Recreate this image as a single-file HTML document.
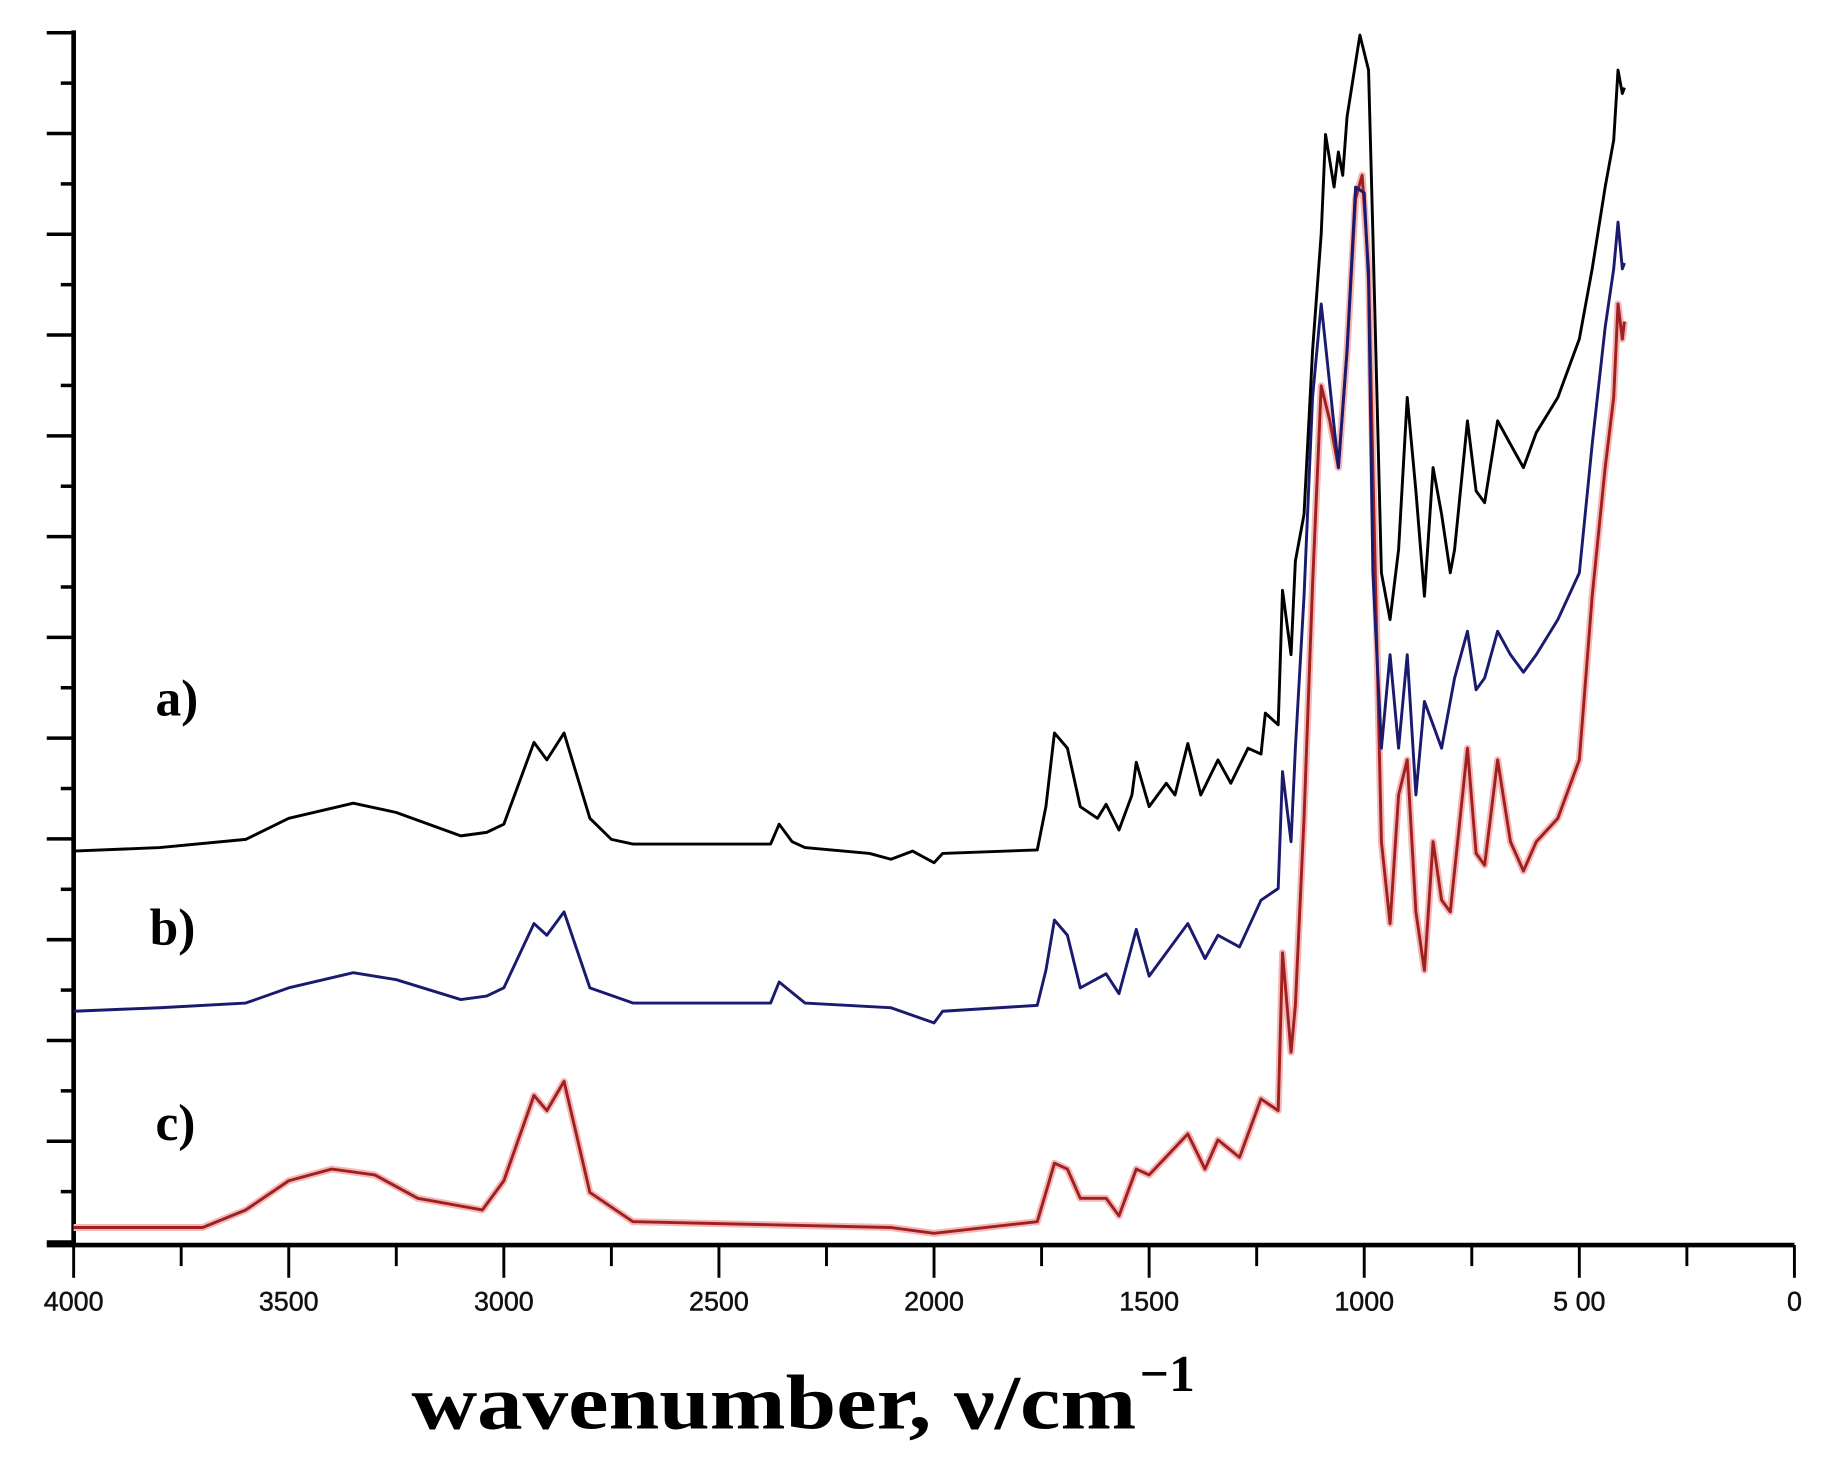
<!DOCTYPE html>
<html><head><meta charset="utf-8"><style>
html,body{margin:0;padding:0;background:#fff;}
svg{display:block;}
</style></head><body>
<svg id="s" width="1833" height="1466" viewBox="0 0 1568 1254" preserveAspectRatio="none" xmlns="http://www.w3.org/2000/svg">
<g id="ax" stroke="#000" fill="none"></g>
<g id="cv" fill="none" stroke-linejoin="round"></g>
<g font-family="Liberation Sans, sans-serif" font-size="23" text-anchor="middle" fill="#111" stroke="#111" stroke-width="0.4" id="tl"></g>
<g font-family="Liberation Serif, serif" font-weight="bold" font-size="44" fill="#000">
<text x="133" y="612">a)</text>
<text x="128" y="808">b)</text>
<text x="133" y="975">c)</text>
</g>
<text x="352" y="1222" font-family="Liberation Serif, serif" font-weight="bold" font-size="66" fill="#000" textLength="620" lengthAdjust="spacingAndGlyphs">wavenumber, ν/cm</text>
<text x="975" y="1190" font-family="Liberation Serif, serif" font-weight="bold" font-size="44" fill="#000">−1</text>
</svg>
<script>
var NS="http://www.w3.org/2000/svg";
function el(p,t,a){var e=document.createElementNS(NS,t);for(var k in a)e.setAttribute(k,a[k]);p.appendChild(e);return e;}
var ax=document.getElementById('ax'),tl=document.getElementById('tl'),cv=document.getElementById('cv');
function X(w){return 63+(4000-w)*0.368;}
el(ax,'line',{x1:63,y1:26,x2:63,y2:1066,'stroke-width':4});
el(ax,'line',{x1:40,y1:1065,x2:1535,y2:1065,'stroke-width':4});
for(var i=0;i<=24;i++){var y=28+i*43.1;el(ax,'line',{x1:(i%2==0?40:52),y1:y,x2:63,y2:y,'stroke-width':3});}
for(var w=4000;w>=0;w-=250){var x=X(w);el(ax,'line',{x1:x,y1:1065,x2:x,y2:(w%500==0?1093:1083),'stroke-width':2.5});
 if(w%500==0){var t=el(tl,'text',{x:x,y:1121});t.textContent=(w==500?'5 00':String(w));}}
var A=[[4000,728],[3800,725],[3600,718],[3500,700],[3350,687],[3250,695],[3100,715],[3040,712],[3000,705],[2930,635],[2900,650],[2860,627],[2800,700],[2750,718],[2700,722],[2380,722],[2360,705],[2330,720],[2300,725],[2150,730],[2100,735],[2050,728],[2000,738],[1980,730],[1760,727],[1740,690],[1720,627],[1690,640],[1660,690],[1620,700],[1600,688],[1570,710],[1540,680],[1530,652],[1500,690],[1460,670],[1440,680],[1410,636],[1380,680],[1340,650],[1310,670],[1270,640],[1240,645],[1230,610],[1200,620],[1190,505],[1170,560],[1160,480],[1140,440],[1120,300],[1100,200],[1090,115],[1070,160],[1060,130],[1050,150],[1040,100],[1010,30],[990,60],[980,200],[960,490],[940,530],[920,470],[900,340],[880,420],[860,510],[840,400],[820,440],[800,490],[790,470],[760,360],[740,420],[720,430],[690,360],[660,380],[630,400],[600,370],[550,340],[500,290],[470,230],[440,160],[420,120],[410,60],[400,80],[395,75]];
var B=[[4000,865],[3800,862],[3600,858],[3500,845],[3350,832],[3250,838],[3100,855],[3040,852],[3000,845],[2930,790],[2900,800],[2860,780],[2800,845],[2700,858],[2380,858],[2360,840],[2300,858],[2100,862],[2000,875],[1980,865],[1760,860],[1740,830],[1720,787],[1690,800],[1660,845],[1600,833],[1570,850],[1530,795],[1500,835],[1410,790],[1370,820],[1340,800],[1290,810],[1240,770],[1200,760],[1190,660],[1170,720],[1160,640],[1140,510],[1120,340],[1100,260],[1080,330],[1060,400],[1040,300],[1020,160],[1000,165],[990,240],[980,490],[960,640],[940,560],[920,640],[900,560],[880,680],[860,600],[840,620],[820,640],[790,580],[760,540],[740,590],[720,580],[690,540],[660,560],[630,575],[600,560],[550,530],[500,490],[470,380],[440,280],[420,230],[410,190],[400,230],[395,225]];
var C=[[4000,1050],[3700,1050],[3600,1035],[3500,1010],[3400,1000],[3300,1005],[3200,1025],[3050,1035],[3000,1010],[2930,937],[2900,950],[2860,925],[2800,1020],[2700,1045],[2100,1050],[2000,1055],[1760,1045],[1740,1020],[1720,995],[1690,1000],[1660,1025],[1600,1025],[1570,1040],[1530,1000],[1500,1005],[1410,970],[1370,1000],[1340,975],[1290,990],[1240,940],[1200,950],[1190,815],[1170,900],[1160,860],[1140,700],[1120,500],[1100,330],[1080,360],[1060,400],[1040,300],[1020,170],[1005,150],[990,230],[980,400],[960,720],[940,790],[920,680],[900,650],[880,780],[860,830],[840,720],[820,770],[800,780],[760,640],[740,730],[720,740],[690,650],[660,720],[630,745],[600,720],[550,700],[500,650],[470,510],[440,400],[420,340],[410,260],[400,290],[395,275]];
function pl(d,c,w){el(cv,'polyline',{points:d.map(function(p){return X(p[0]).toFixed(1)+','+p[1];}).join(' '),stroke:c,'stroke-width':w});}
pl(C,'#f4b8b8',6);pl(C,'#a02020',2.5);
pl(B,'#1a1a6e',2.5);
pl(A,'#000',2.5);
</script>
</body></html>
